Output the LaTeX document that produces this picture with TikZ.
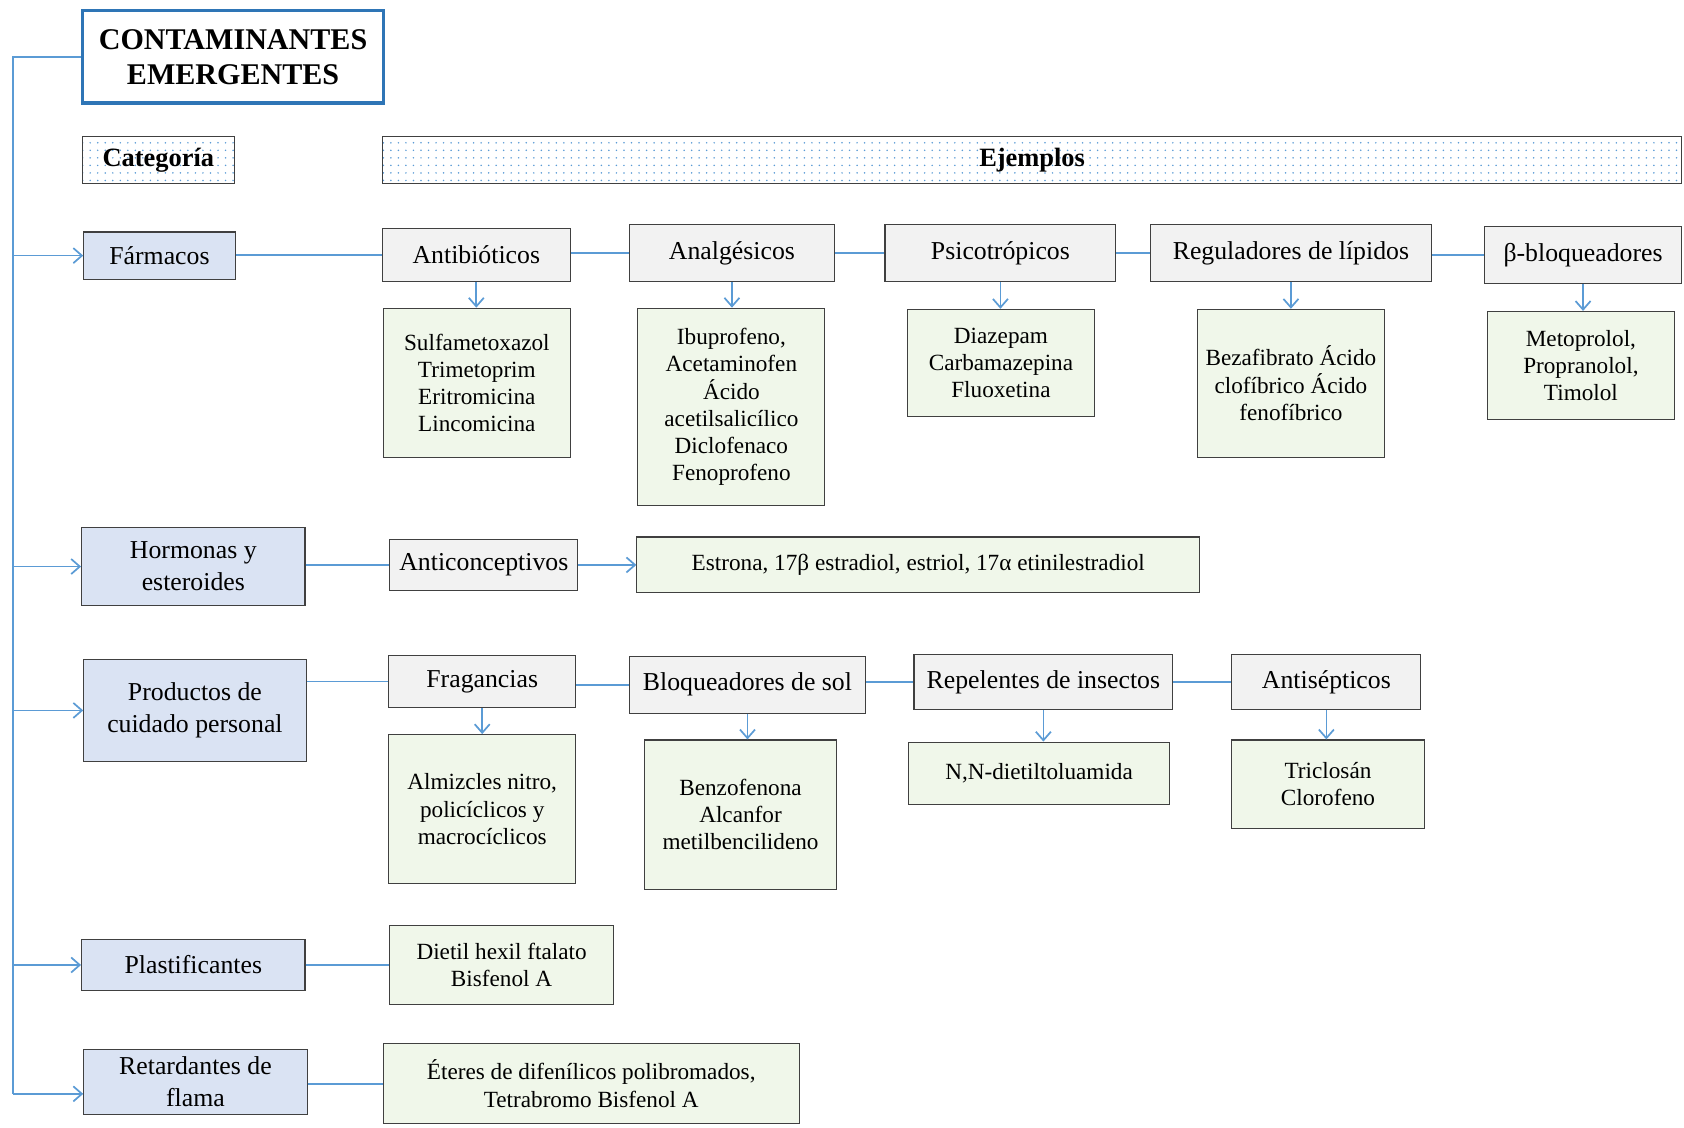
\documentclass[tikz,border=0pt]{standalone}
\usepackage{fontspec}
\setmainfont{Liberation Serif}
\usetikzlibrary{arrows.meta,patterns.meta}
\definecolor{linea}{RGB}{91,155,213}
\definecolor{marco}{RGB}{46,117,182}
\definecolor{azulcat}{RGB}{218,227,243}
\definecolor{grisej}{RGB}{242,242,242}
\definecolor{verdeej}{RGB}{240,247,234}
\tikzset{
  wh/.style 2 args={minimum width=#1*0.5pt, minimum height=#2*0.5pt},
  caja/.style={draw=black!75, line width=0.5pt, inner sep=0pt, align=center},
  cat/.style={caja, fill=azulcat, font=\fontsize{12}{15}\selectfont},
  tipo/.style={caja, fill=grisej, font=\fontsize{12}{15}\selectfont},
  ejem/.style={caja, fill=verdeej, font=\fontsize{10.8}{12.7}\selectfont},
  cabecera/.style={caja, pattern={Dots[distance=3.5pt,radius=0.4pt]}, pattern color=linea,
    font=\bfseries\fontsize{12.3}{15}\selectfont},
  enlace/.style={draw=linea, line width=0.8pt},
  flecha/.style={enlace, -{Straight Barb[length=4pt,width=7pt]}}
}
\begin{document}
\begin{tikzpicture}[x=0.5pt,y=-0.5pt]
\useasboundingbox (0,0) rectangle (1568,1050);
% Titulo
\node[caja, draw=marco, line width=1.5pt, wh={280}{86}, font=\bfseries\fontsize{14}{16.5}\selectfont]
  (titulo) at (217,53) {CONTAMINANTES\\EMERGENTES};
% Cabeceras
\node[cabecera, wh={141}{44}] (categoria) at (147.5,149) {Categoría};
\node[cabecera, wh={1210}{44}] (ejemplos) at (961,149) {Ejemplos};
% Categorias
\node[cat, wh={141}{44}] (farm) at (148.5,238) {Fármacos};
\node[cat, wh={208}{73}] (horm) at (180,527.5) {Hormonas y\\esteroides};
\node[cat, wh={207}{95}] (prod) at (181.5,661.5) {Productos de\\cuidado personal};
\node[cat, wh={208}{47}] (plast) at (180,898.5) {Plastificantes};
\node[cat, wh={208}{61}] (retar) at (182,1007.5) {Retardantes de\\flama};
% Farmacos
\node[tipo, wh={175}{49}] (antib) at (443.5,237.5) {Antibióticos};
\node[tipo, wh={191}{53}] (analg) at (681.5,235.5) {Analgésicos};
\node[tipo, wh={215}{53}] (psico) at (931.5,235.5) {Psicotrópicos};
\node[tipo, wh={262}{53}] (regul) at (1202,235.5) {Reguladores de lípidos};
\node[tipo, wh={184}{53}] (betab) at (1474,237.5) {β-bloqueadores};
\node[ejem, wh={174}{139}] (sulfa) at (444,356.5) {Sulfametoxazol\\Trimetoprim\\Eritromicina\\Lincomicina};
\node[ejem, wh={174}{184}] (ibupr) at (681,379) {Ibuprofeno,\\Acetaminofen\\Ácido\\acetilsalicílico\\Diclofenaco\\Fenoprofeno};
\node[ejem, wh={174}{100}] (diaz) at (932,338) {Diazepam\\Carbamazepina\\Fluoxetina};
\node[ejem, wh={174}{138}] (bezaf) at (1202,357) {Bezafibrato Ácido\\clofíbrico Ácido\\fenofíbrico};
\node[ejem, wh={174}{101}] (metop) at (1472,340.5) {Metoprolol,\\Propranolol,\\Timolol};
% Hormonas
\node[tipo, wh={175}{48}] (antic) at (450.5,526) {Anticonceptivos};
\node[ejem, wh={524}{52}] (estro) at (855,526) {Estrona, 17β estradiol, estriol, 17α etinilestradiol};
% Cuidado personal
\node[tipo, wh={174}{49}] (fragan) at (449,634.5) {Fragancias};
\node[tipo, wh={220}{53}] (bloq) at (696,637.5) {Bloqueadores de sol};
\node[tipo, wh={241}{52}] (repel) at (971.5,635) {Repelentes de insectos};
\node[tipo, wh={176}{52}] (antis) at (1235,635) {Antisépticos};
\node[ejem, wh={174}{139}] (almiz) at (449,753.5) {Almizcles nitro,\\policíclicos y\\macrocíclicos};
\node[ejem, wh={179}{139}] (benzo) at (689.5,758.5) {Benzofenona\\Alcanfor\\metilbencilideno};
\node[ejem, wh={243}{58}] (dietil) at (967.5,720) {N,N-dietiltoluamida};
\node[ejem, wh={179}{82}] (tricl) at (1236.5,730) {Triclosán\\Clorofeno};
% Plastificantes y retardantes
\node[ejem, wh={208}{73}] (ftal) at (467,898.5) {Dietil hexil ftalato\\Bisfenol A};
\node[ejem, wh={387}{74}] (eteres) at (550.5,1009) {Éteres de difenílicos polibromados,\\Tetrabromo Bisfenol A};
% Tronco
\coordinate (tronco) at (12,53);
\coordinate (flama) at ([yshift=-5.5pt]retar.west);
\draw[enlace] (titulo.west) -- (tronco) -- (tronco |- flama);
\foreach \c in {farm.west,horm.west,prod.west,plast.west,flama}
  \draw[flecha] (tronco |- \c) -- (\c);
% Uniones horizontales
\foreach \a/\b in {farm/antib,antib/analg,analg/psico,psico/regul,regul/betab,
                   horm/antic,prod/fragan,fragan/bloq,bloq/repel,repel/antis,
                   plast/ftal,retar/eteres}
  \draw[enlace] (\b.west -| \a.east) -- (\b.west);
\draw[flecha] (antic.east) -- (estro.west);
% Flechas hacia ejemplos
\foreach \a/\b in {antib/sulfa,analg/ibupr,psico/diaz,regul/bezaf,betab/metop,
                   fragan/almiz,bloq/benzo,repel/dietil,antis/tricl}
  \draw[flecha] (\a.south) -- (\a.south |- \b.north);
\end{tikzpicture}
\end{document}
